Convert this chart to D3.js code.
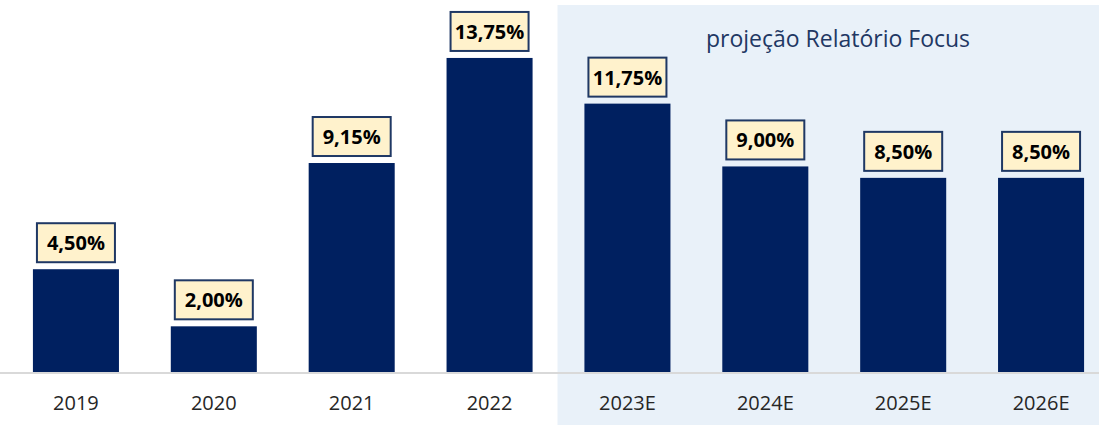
<!DOCTYPE html>
<html lang="pt">
  <head>
    <meta charset="UTF-8" />
    <title>Selic</title>
    <style>
      body { margin: 0; background: #fff; }
      text { font-family: "Open Sans", "Noto Sans", sans-serif; }
    </style>
  </head>
  <script src="https://d3js.org/d3.v7.min.js"></script>
  <body>
    <div id="chart"></div>
  </body>
  <script>
    // data
    const years = ["2019", "2020", "2021", "2022", "2023E", "2024E", "2025E", "2026E"];
    const rates = [4.5, 2.0, 9.15, 13.75, 11.75, 9.0, 8.5, 8.5];
    const projected = ["2023E", "2024E", "2025E", "2026E"];
    const projectionLabel = "projeção Relatório Focus";

    const width = 1099,
      height = 425;

    const svg = d3
      .select("#chart")
      .append("svg")
      .attr("width", width)
      .attr("height", height);

    const x = d3
      .scaleBand()
      .domain(years)
      .range([7, 1110])
      .paddingInner(0.376)
      .paddingOuter(0.188);

    const y = d3.scaleLinear().domain([0, 15]).range([372, 372 - 15 * 22.84]);

    // shaded projection area
    const shadeX = x(projected[0]) - (x.step() - x.bandwidth()) / 2 - 1;
    svg
      .append("rect")
      .attr("x", shadeX)
      .attr("y", 5)
      .attr("width", width - shadeX)
      .attr("height", height - 5)
      .attr("fill", "#e9f1f9");

    svg
      .append("text")
      .attr("x", 838)
      .attr("y", 47)
      .attr("text-anchor", "middle")
      .attr("fill", "#1f3864")
      .style("font-size", "23px")
      .text(projectionLabel);

    // bars
    svg
      .selectAll("rect.bar")
      .data(years)
      .join("rect")
      .attr("class", "bar")
      .attr("x", (d) => x(d))
      .attr("width", x.bandwidth())
      .attr("y", (d, i) => y(rates[i]))
      .attr("height", (d, i) => y(0) - y(rates[i]))
      .attr("fill", "#002060");

    // baseline
    svg
      .append("line")
      .attr("x1", 0)
      .attr("x2", width)
      .attr("y1", y(0) + 1)
      .attr("y2", y(0) + 1)
      .attr("stroke", "#d9d9d9")
      .attr("stroke-width", 2);

    // x axis labels
    const xAxis = d3.axisBottom(x).tickSize(0).tickPadding(22);
    const gx = svg.append("g").attr("transform", `translate(0,${y(0) + 2})`).call(xAxis);
    gx.select(".domain").remove();
    gx.selectAll("text")
      .style("font-family", '"Open Sans", "Noto Sans", sans-serif')
      .style("font-size", "20px")
      .attr("fill", "#262626");

    // value labels
    const fmt = (v) => v.toFixed(2).replace(".", ",") + "%";
    const labels = svg
      .selectAll("g.lbl")
      .data(years)
      .join("g")
      .attr("class", "lbl")
      .attr(
        "transform",
        (d, i) => `translate(${x(d) + x.bandwidth() / 2},${y(rates[i])})`
      );

    labels
      .append("rect")
      .attr("x", -39)
      .attr("y", -46)
      .attr("width", 78)
      .attr("height", 39)
      .attr("fill", "#fff2cc")
      .attr("stroke", "#1f3864")
      .attr("stroke-width", 2);

    labels
      .append("text")
      .attr("y", -19)
      .attr("text-anchor", "middle")
      .attr("fill", "#000")
      .style("font-size", "20px")
      .style("font-weight", "bold")
      .text((d, i) => fmt(rates[i]));
  </script>
</html>
